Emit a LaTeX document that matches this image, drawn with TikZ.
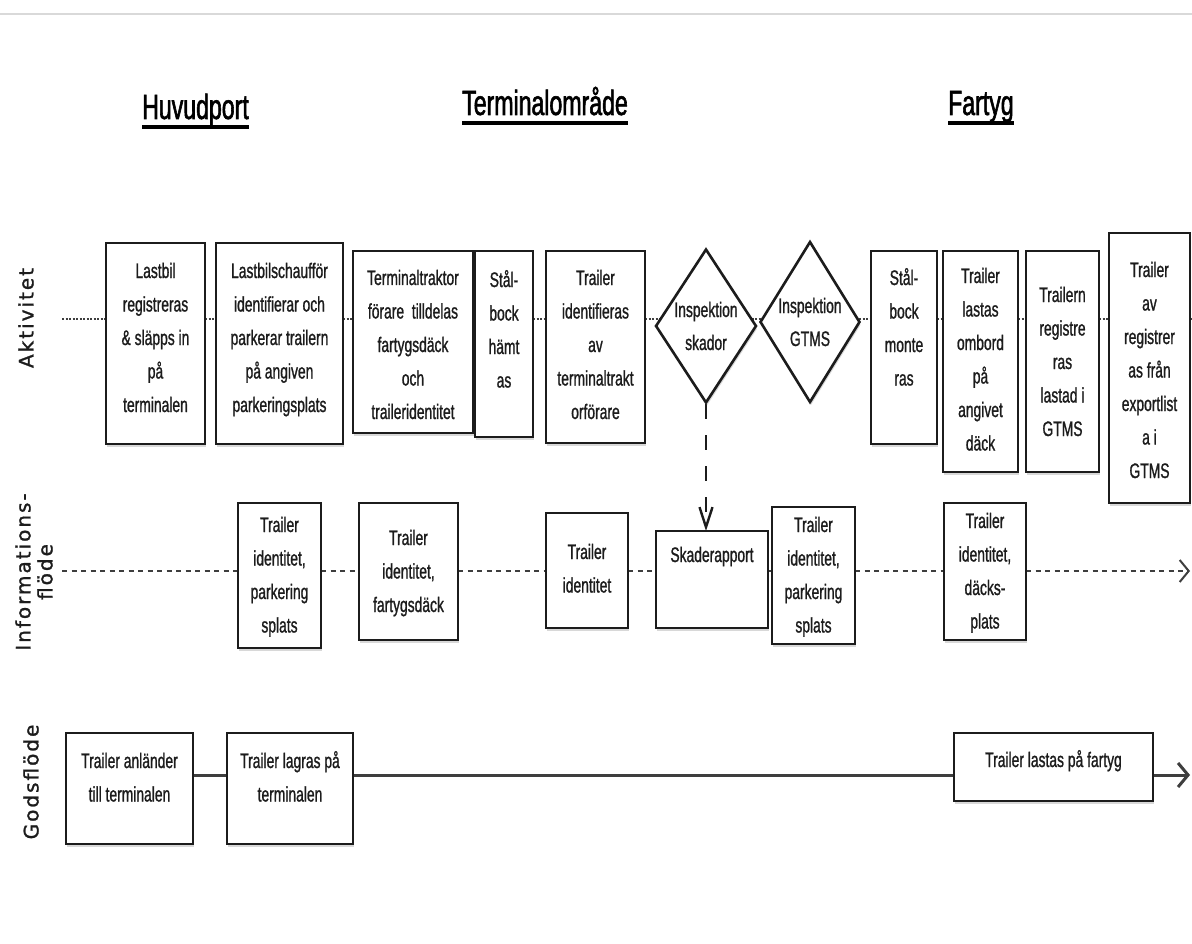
\documentclass[tikz,border=0pt]{standalone}
\usepackage{fontspec}
\usetikzlibrary{arrows.meta,shapes.geometric,shadows,backgrounds}
\newfontfamily\condfont[FakeStretch=0.66, FakeBold=1.0]{Liberation Sans}
\newfontfamily\headfont[FakeStretch=0.66, FakeBold=1.6]{Liberation Sans}
\newfontfamily\lanefont[LetterSpace=10, FakeBold=1.2]{DejaVu Sans}
\definecolor{ink}{HTML}{1C1C1C}
\definecolor{hairline}{HTML}{D9D9D9}

% underlined heading with a heavy rule
\newcommand\heavyul[1]{\setbox0=\hbox{#1}\rlap{\rule[-10pt]{\wd0}{3.5pt}}\box0}

% \procbox{name}{x1}{y1}{x2}{y2}{first baseline below top}{text}
\newcommand\procbox[7]{%
  \node[boxst] (#1) at ({(#2+#4)/2},{(#3+#5)/2})
    {\parbox[c][\dimexpr #5pt-#3pt\relax][t]{\dimexpr #4pt-#2pt\relax}{%
      \centering\vspace*{\dimexpr #6pt-\baselineskip\relax}\prevdepth=0pt #7\par}};}

\tikzset{
  boxst/.style={draw=ink, line width=1.9pt, fill=white, inner sep=0pt, outer sep=0pt,
    drop shadow={shadow xshift=1pt, shadow yshift=-3pt, opacity=0.3},
    font=\condfont\fontsize{21}{33.5}\selectfont, text=ink},
  diamst/.style={diamond, draw=ink, line width=2.6pt, fill=white, inner sep=0pt,
    drop shadow={shadow xshift=1pt, shadow yshift=-3pt, opacity=0.3}},
  dlabel/.style={font=\condfont\fontsize{21}{33}\selectfont, align=center, inner sep=0pt, text=ink},
  aktline/.style={draw=ink!85, line width=2.4pt, dash pattern=on 2.2pt off 1.3pt},
  infline/.style={draw=ink!85, line width=2pt, dash pattern=on 5pt off 4.5pt},
  repline/.style={draw=ink, line width=2.4pt, dash pattern=on 15pt off 16pt},
  godsline/.style={draw=ink!85, line width=3pt},
  heading/.style={font=\headfont\fontsize{35}{40}\selectfont, inner sep=0pt, anchor=base west},
  lane/.style={font=\lanefont\fontsize{20}{22}\selectfont, rotate=90, align=center,
    inner sep=0pt, text=ink},
}

\begin{document}
\begin{tikzpicture}[x=1pt,y=-1pt]
\useasboundingbox (0,0) rectangle (1192,944);

% lane reference points
\coordinate (akt)     at (62,319);
\coordinate (aktEnd)  at (1192,319);
\coordinate (inf)     at (62,571);
\coordinate (infEnd)  at (1190,571);
\coordinate (godsEnd) at (1190,775);

% headings
\node[heading] (hHuvud)  at (142,119) {\heavyul{Huvudport}};
\node[heading] (hTerm)   at (462,115) {\heavyul{Terminalområde}};
\node[heading] (hFartyg) at (948,115) {\heavyul{Fartyg}};

% lane labels
\node[lane] (lAkt)  at (26,318) {Aktivitet};
\node[lane] (lInf)  at (34,572) {Informations-\\flöde};
\node[lane] (lGods) at (31,782) {Godsflöde};

% activity lane
\procbox{b1}{106}{243}{205}{444}{35}{Lastbil\\registreras\\\& släpps in\\på\\terminalen}
\procbox{b2}{216}{243}{343}{444}{35}{Lastbilschaufför\\identifierar och\\parkerar trailern\\på angiven\\parkeringsplats}
\procbox{b3}{353}{251}{473}{433}{34}{Terminaltraktor\\förare~ tilldelas\\fartygsdäck\\och\\traileridentitet}
\procbox{b4}{475}{251}{533}{437}{36}{Stål-\\bock\\hämt\\as}
\procbox{b5}{546}{251}{645}{443}{34}{Trailer\\identifieras\\av\\terminaltrakt\\orförare}
\node[diamst, minimum width=101pt, minimum height=154pt,
      label={[dlabel]center:{Inspektion\\skador}}] (d1) at (706,326) {};
\node[diamst, minimum width=100pt, minimum height=161pt,
      label={[dlabel]center:{Inspektion\\GTMS}}] (d2) at (810,322) {};
\procbox{b8}{871}{251}{937}{444}{34}{Stål-\\bock\\monte\\ras}
\procbox{b9}{943}{251}{1018}{472}{32}{Trailer\\lastas\\ombord\\på\\angivet\\däck}
\procbox{b10}{1026}{251}{1099}{472}{51}{Trailern\\registre\\ras\\lastad i\\GTMS}
\procbox{b11}{1109}{233}{1190}{503}{44}{Trailer\\av\\registrer\\as från\\exportlist\\a i\\GTMS}

% information lane
\procbox{i1}{238}{503}{321}{648}{29}{Trailer\\identitet,\\parkering\\splats}
\procbox{i2}{359}{503}{458}{640}{42}{Trailer\\identitet,\\fartygsdäck}
\procbox{i3}{546}{513}{628}{628}{46}{Trailer\\identitet}
\procbox{i4}{656}{531}{768}{628}{31}{Skaderapport}
\procbox{i5}{772}{507}{855}{644}{25}{Trailer\\identitet,\\parkering\\splats}
\procbox{i6}{944}{503}{1026}{640}{25}{Trailer\\identitet,\\däcks-\\plats}

% goods lane
\procbox{g1}{66}{733}{193}{844}{35}{Trailer anländer\\till terminalen}
\procbox{g2}{227}{733}{353}{844}{35}{Trailer lagras på\\terminalen}
\procbox{g3}{954}{733}{1153}{801}{34}{Trailer lastas på fartyg}

\begin{scope}[on background layer]
  \fill[white] (0,0) rectangle (1192,944);
  \draw[hairline, line width=2pt] (0,14) -- (1192,14);

  % activity flow
  \draw[aktline] (akt) -- (b1.west |- akt);
  \draw[aktline] (b1.east |- akt) -- (b2.west |- akt);
  \draw[aktline] (b2.east |- akt) -- (b3.west |- akt);
  \draw[aktline] (b3.east |- akt) -- (b4.west |- akt);
  \draw[aktline] (b4.east |- akt) -- (b5.west |- akt);
  \draw[aktline] (b5.east |- akt) -- (d1.center |- akt);
  \draw[aktline] (d1.center |- akt) -- (d2.center |- akt);
  \draw[aktline] (d2.center |- akt) -- (b8.west |- akt);
  \draw[aktline] (b8.east |- akt) -- (b9.west |- akt);
  \draw[aktline] (b9.east |- akt) -- (b10.west |- akt);
  \draw[aktline] (b10.east |- akt) -- (b11.west |- akt);
  \draw[aktline] (b11.east |- akt) -- (aktEnd);

  % damage report
  \draw[repline, -{Straight Barb[length=20pt,width=13pt]}] (d1.south) -- (d1.south |- i4.north);

  % information flow
  \draw[infline] (inf) -- (i1.west |- inf);
  \draw[infline] (i1.east |- inf) -- (i2.west |- inf);
  \draw[infline] (i2.east |- inf) -- (i3.west |- inf);
  \draw[infline] (i3.east |- inf) -- (i4.west |- inf);
  \draw[infline] (i4.east |- inf) -- (i5.west |- inf);
  \draw[infline] (i5.east |- inf) -- (i6.west |- inf);
  \draw[infline, -{Straight Barb[length=9pt,width=22pt]}] (i6.east |- inf) -- (infEnd);

  % goods flow
  \draw[godsline] (g1.east |- godsEnd) -- (g2.west |- godsEnd);
  \draw[godsline] (g2.east |- godsEnd) -- (g3.west |- godsEnd);
  \draw[godsline, -{Straight Barb[length=10pt,width=24pt]}] (g3.east |- godsEnd) -- (godsEnd);
\end{scope}
\end{tikzpicture}
\end{document}
